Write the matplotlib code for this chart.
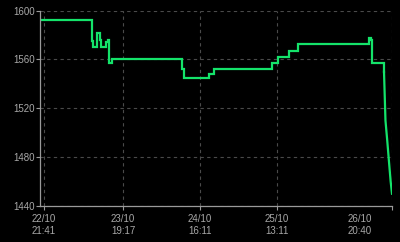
from datetime import datetime

import matplotlib
matplotlib.use('Agg')
import matplotlib.pyplot as plt
import matplotlib.transforms as mtransforms

# price readings (time, value)
times = [
    '2023-10-22 21:08', '2023-10-23 10:42', '2023-10-23 10:55', '2023-10-23 12:04',
    '2023-10-23 12:50', '2023-10-23 13:06', '2023-10-23 14:36', '2023-10-23 15:09',
    '2023-10-23 15:30', '2023-10-23 16:10', '2023-10-24 11:13', '2023-10-24 11:54',
    '2023-10-24 18:43', '2023-10-24 19:57', '2023-10-25 11:55', '2023-10-25 13:33',
    '2023-10-25 16:33', '2023-10-25 19:00', '2023-10-26 14:28', '2023-10-26 14:48',
    '2023-10-26 15:09', '2023-10-26 18:29', '2023-10-26 18:53', '2023-10-26 19:23',
    '2023-10-26 19:51', '2023-10-26 20:18', '2023-10-26 20:40',
]
values = [
    1592, 1575, 1570, 1582,
    1576, 1570, 1574, 1576,
    1557, 1560, 1552, 1545,
    1548, 1552, 1557.5, 1562,
    1567, 1572.5, 1578, 1576,
    1557.5, 1550, 1510, 1493,
    1476, 1460, 1450,
]
# from this reading on the price slides instead of stepping
slide_start = 21

tick_times = ['2023-10-22 21:41', '2023-10-23 19:17', '2023-10-24 16:11',
              '2023-10-25 13:11', '2023-10-26 20:40']
tick_labels = ['22/10\n21:41', '23/10\n19:17', '24/10\n16:11',
               '25/10\n13:11', '26/10\n20:40']
y_ticks = [1440, 1480, 1520, 1560, 1600]

fmt = '%Y-%m-%d %H:%M'
dates = [datetime.strptime(t, fmt) for t in times]
tick_dates = [datetime.strptime(t, fmt) for t in tick_times]

plt.rcParams['font.family'] = ['Liberation Sans', 'DejaVu Sans']

fig = plt.figure(figsize=(4, 2.42), dpi=100, facecolor='black')
ax = fig.add_axes([0.1, 0.149, 0.88, 0.807])
ax.set_facecolor('black')

green = '#14e36a'
ax.plot(dates[:slide_start + 1], values[:slide_start + 1], drawstyle='steps-post',
        color=green, lw=1.6, solid_joinstyle='miter')
ax.plot(dates[slide_start:], values[slide_start:], color=green, lw=1.6)

ax.set_ylim(1440, 1600)
ax.set_xlim(datetime(2023, 10, 22, 20, 35), datetime(2023, 10, 26, 20, 40))
ax.set_yticks(y_ticks)
ax.set_xticks(tick_dates)
ax.set_xticklabels(tick_labels)

ax.grid(True, color='#4a4a4a', ls=(0, (3, 3)), lw=0.8)
for side in ['top', 'right']:
    ax.spines[side].set_visible(False)
for side in ['left', 'bottom']:
    ax.spines[side].set_color('#9a9a9a')
    ax.spines[side].set_linewidth(0.9)

ax.tick_params(colors='#9a9a9a', labelsize=7, length=3, width=0.8, pad=3)
ax.tick_params(axis='y', pad=1)
for lab in ax.get_yticklabels() + ax.get_xticklabels():
    lab.set_color('#a8a8a8')

# last date label sits left of its tick
last = ax.get_xticklabels()[-1]
shift = mtransforms.ScaledTranslation(-0.32, 0, fig.dpi_scale_trans)
last.set_transform(last.get_transform() + shift)

fig.savefig('out.png', dpi=100, facecolor='black')
